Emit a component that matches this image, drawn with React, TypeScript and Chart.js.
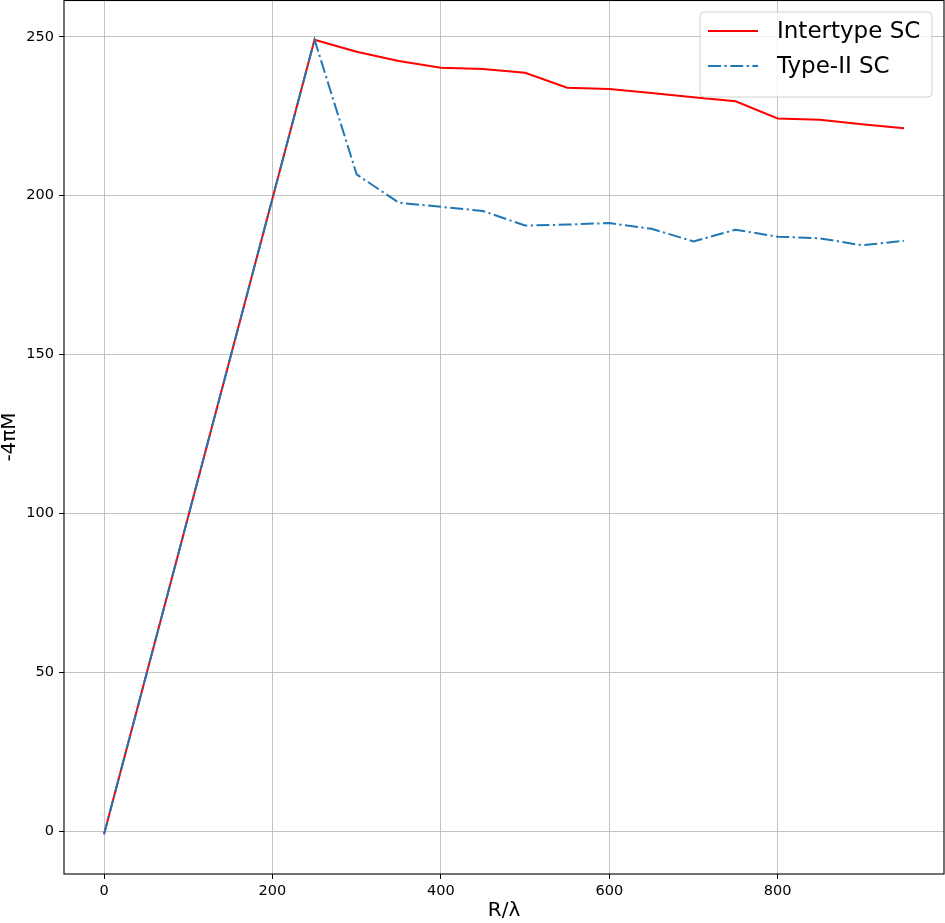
import React, { useEffect, useRef } from "react";
import { Chart, registerables } from "chart.js";

Chart.register(...registerables);

// ---- data ----
const xValues = [0, 250, 300, 350, 400, 450, 500, 550, 600, 650, 700, 750, 800, 850, 900, 950];
const intertypeSC = [-1.0, 249.1, 245.3, 242.4, 240.3, 239.9, 238.7, 234.0, 233.6, 232.3, 231.0, 229.7, 224.3, 223.9, 222.5, 221.2];
const typeIISC = [-1.0, 249.1, 206.7, 197.8, 196.5, 195.2, 190.6, 190.9, 191.4, 189.6, 185.6, 189.3, 187.1, 186.6, 184.4, 185.8];
const seriesLabels = ["Intertype SC", "Type-II SC"];
const xTicks = [0, 200, 400, 600, 800];
const yTicks = [0, 50, 100, 150, 200, 250];
const xRange = [-47.5, 997.5];
const yRange = [-13.5, 261.6];
const xTitle = "R/λ";
const yTitle = "-4πM";

const FONT = "'DejaVu Sans', 'Liberation Sans', sans-serif";

const framePlugin = {
  id: "frame",
  afterDatasetsDraw(chart: any) {
    const { ctx, chartArea } = chart;
    ctx.save();
    ctx.strokeStyle = "#000";
    ctx.lineWidth = 1.1;
    ctx.strokeRect(chartArea.left, chartArea.top + 0.5, chartArea.right - chartArea.left, chartArea.bottom - chartArea.top - 0.5);
    ctx.restore();
  },
};

const legendPlugin = {
  id: "mplLegend",
  afterDraw(chart: any) {
    const { ctx } = chart;
    const x0 = 700, y0 = 12, w = 232, h = 85, r = 4;
    ctx.save();
    ctx.beginPath();
    ctx.moveTo(x0 + r, y0);
    ctx.lineTo(x0 + w - r, y0);
    ctx.quadraticCurveTo(x0 + w, y0, x0 + w, y0 + r);
    ctx.lineTo(x0 + w, y0 + h - r);
    ctx.quadraticCurveTo(x0 + w, y0 + h, x0 + w - r, y0 + h);
    ctx.lineTo(x0 + r, y0 + h);
    ctx.quadraticCurveTo(x0, y0 + h, x0, y0 + h - r);
    ctx.lineTo(x0, y0 + r);
    ctx.quadraticCurveTo(x0, y0, x0 + r, y0);
    ctx.closePath();
    ctx.fillStyle = "rgba(255,255,255,0.8)";
    ctx.fill();
    ctx.strokeStyle = "#d0d0d0";
    ctx.lineWidth = 1;
    ctx.stroke();
    const rows = [31, 66];
    chart.data.datasets.forEach((ds: any, i: number) => {
      const y = rows[i];
      ctx.beginPath();
      ctx.strokeStyle = ds.borderColor;
      ctx.lineWidth = ds.borderWidth;
      ctx.setLineDash(ds.borderDash || []);
      ctx.moveTo(708, y);
      ctx.lineTo(758, y);
      ctx.stroke();
      ctx.setLineDash([]);
      ctx.fillStyle = "#000";
      ctx.font = `23px ${FONT}`;
      ctx.textBaseline = "middle";
      ctx.textAlign = "left";
      ctx.fillText(ds.label, 777, y + 1);
    });
    ctx.restore();
  },
};

export default function App() {
  const ref = useRef<HTMLCanvasElement | null>(null);

  useEffect(() => {
    if (!ref.current) return;
    const chart = new Chart(ref.current, {
      type: "line",
      data: {
        datasets: [
          {
            label: seriesLabels[0],
            data: xValues.map((x, i) => ({ x, y: intertypeSC[i] })),
            borderColor: "#ff0000",
            borderWidth: 2,
            pointRadius: 0,
            tension: 0,
            fill: false,
            order: 2,
          },
          {
            label: seriesLabels[1],
            data: xValues.map((x, i) => ({ x, y: typeIISC[i] })),
            borderColor: "#1f77b4",
            borderWidth: 2,
            borderDash: [13, 3.5, 2.2, 3.5],
            pointRadius: 0,
            tension: 0,
            fill: false,
            order: 1,
          },
        ],
      },
      options: {
        responsive: false,
        animation: false,
        devicePixelRatio: 1,
        layout: { padding: { left: 0, right: 1, top: 0, bottom: 0 } },
        plugins: {
          legend: { display: false },
          tooltip: { enabled: false },
        },
        scales: {
          x: {
            type: "linear",
            min: xRange[0],
            max: xRange[1],
            afterBuildTicks: (scale: any) => {
              scale.ticks = xTicks.map((v) => ({ value: v }));
            },
            afterFit: (scale: any) => {
              scale.height = 49;
              scale.paddingLeft = 0;
              scale.paddingRight = 0;
            },
            grid: {
              color: "#c4c4c4",
              lineWidth: 1,
              tickColor: "#000",
              tickLength: 5,
              drawTicks: true,
            },
            border: { display: false },
            ticks: {
              font: { family: FONT, size: 14.5 },
              color: "#000",
              padding: 4,
              maxRotation: 0,
              autoSkip: false,
            },
            title: {
              display: true,
              text: xTitle,
              font: { family: FONT, size: 20 },
              color: "#000",
              padding: { top: 0, bottom: 0 },
            },
          },
          y: {
            type: "linear",
            min: yRange[0],
            max: yRange[1],
            afterBuildTicks: (scale: any) => {
              scale.ticks = yTicks.map((v) => ({ value: v }));
            },
            afterFit: (scale: any) => {
              scale.width = 64;
              scale.paddingTop = 0;
              scale.paddingBottom = 0;
            },
            grid: {
              color: "#c4c4c4",
              lineWidth: 1,
              tickColor: "#000",
              tickLength: 5,
              drawTicks: true,
            },
            border: { display: false },
            ticks: {
              font: { family: FONT, size: 14.5 },
              color: "#000",
              padding: 5,
              autoSkip: false,
            },
            title: {
              display: true,
              text: yTitle,
              font: { family: FONT, size: 20, lineHeight: 1 },
              color: "#000",
              padding: { top: 0, bottom: 0 },
            },
          },
        },
      },
      plugins: [framePlugin, legendPlugin],
    });
    return () => chart.destroy();
  }, []);

  return (
    <div style={{ position: "absolute", left: 0, top: 0, width: 945, height: 923, background: "#fff" }}>
      <canvas ref={ref} width={945} height={923} />
    </div>
  );
}
